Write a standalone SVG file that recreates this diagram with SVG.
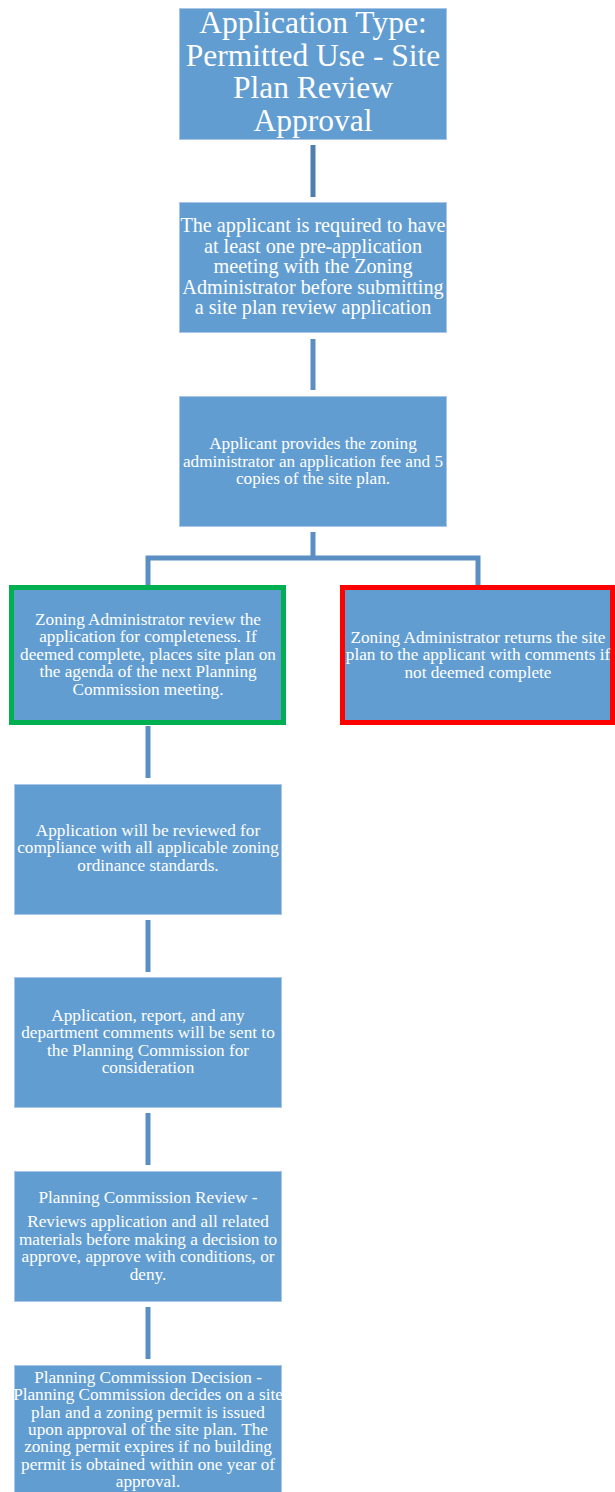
<svg xmlns="http://www.w3.org/2000/svg" width="615" height="1492" viewBox="0 0 615 1492">
  <style>
    .box { fill: #629dd1; stroke: #a9c6e6; stroke-width: 1; }
    .ok { stroke: #00b050; stroke-width: 5; }
    .bad { stroke: #ff0000; stroke-width: 5; }
    .link { fill: none; stroke: #5b8fc4; stroke-width: 5; }
    .link.dark { stroke: #4f7fad; }
    text { font-family: "Liberation Serif", "Times New Roman", serif; fill: #ffffff; text-anchor: middle; }
    .t1 { font-size: 31.5px; }
    .t2 { font-size: 20.2px; }
    .t3 { font-size: 17.2px; }
  </style>
  <rect width="615" height="1492" fill="#ffffff"/>

  <g id="connectors">
    <line class="link dark" x1="313" y1="145" x2="313" y2="197"/>
    <line class="link" x1="313" y1="339" x2="313" y2="390"/>
    <path class="link" d="M313 532 V558 H148 V585 M313 558 H478 V585"/>
    <line class="link" x1="148" y1="726" x2="148" y2="778"/>
    <line class="link" x1="148" y1="920" x2="148" y2="972"/>
    <line class="link" x1="148" y1="1113" x2="148" y2="1165"/>
    <line class="link" x1="148" y1="1307" x2="148" y2="1359"/>
  </g>

  <g id="node-type">
    <rect class="box" x="179.5" y="8.5" width="267" height="131"/>
    <text class="t1" x="313" y="33">Application Type:</text>
    <text class="t1" x="313" y="65.5">Permitted Use - Site</text>
    <text class="t1" x="313" y="98">Plan Review</text>
    <text class="t1" x="313" y="130.5">Approval</text>
  </g>

  <g id="node-preapp">
    <rect class="box" x="179.5" y="202.5" width="267" height="130"/>
    <text class="t2" x="313" y="232">The applicant is required to have</text>
    <text class="t2" x="313" y="252.5">at least one pre-application</text>
    <text class="t2" x="313" y="273">meeting with the Zoning</text>
    <text class="t2" x="313" y="293.5">Administrator before submitting</text>
    <text class="t2" x="313" y="314">a site plan review application</text>
  </g>

  <g id="node-fee">
    <rect class="box" x="179.5" y="396.5" width="267" height="130"/>
    <text class="t3" x="313" y="449">Applicant provides the zoning</text>
    <text class="t3" x="313" y="466.5">administrator an application fee and 5</text>
    <text class="t3" x="313" y="484">copies of the site plan.</text>
  </g>

  <g id="node-complete">
    <rect class="box ok" x="11.5" y="587.5" width="272" height="135"/>
    <text class="t3" x="148" y="624.5">Zoning Administrator review the</text>
    <text class="t3" x="148" y="642">application for completeness. If</text>
    <text class="t3" x="148" y="659.5">deemed complete, places site plan on</text>
    <text class="t3" x="148" y="677">the agenda of the next Planning</text>
    <text class="t3" x="148" y="694.5">Commission meeting.</text>
  </g>

  <g id="node-incomplete">
    <rect class="box bad" x="342.5" y="587.5" width="270" height="135"/>
    <text class="t3" x="478" y="642.5">Zoning Administrator returns the site</text>
    <text class="t3" x="478" y="660">plan to the applicant with comments if</text>
    <text class="t3" x="478" y="677.5">not deemed complete</text>
  </g>

  <g id="node-compliance">
    <rect class="box" x="14.5" y="784.5" width="267" height="130"/>
    <text class="t3" x="148" y="835.5">Application will be reviewed for</text>
    <text class="t3" x="148" y="853">compliance with all applicable zoning</text>
    <text class="t3" x="148" y="870.5">ordinance standards.</text>
  </g>

  <g id="node-report">
    <rect class="box" x="14.5" y="977.5" width="267" height="130"/>
    <text class="t3" x="148" y="1020.5">Application, report, and any</text>
    <text class="t3" x="148" y="1038">department comments will be sent to</text>
    <text class="t3" x="148" y="1055.5">the Planning Commission for</text>
    <text class="t3" x="148" y="1073">consideration</text>
  </g>

  <g id="node-review">
    <rect class="box" x="14.5" y="1171.5" width="267" height="130"/>
    <text class="t3" x="148" y="1203">Planning Commission Review -</text>
    <text class="t3" x="148" y="1227">Reviews application and all related</text>
    <text class="t3" x="148" y="1244.5">materials before making a decision to</text>
    <text class="t3" x="148" y="1262">approve, approve with conditions, or</text>
    <text class="t3" x="148" y="1279.5">deny.</text>
  </g>

  <g id="node-decision">
    <rect class="box" x="14.5" y="1365.5" width="267" height="130"/>
    <text class="t3" x="148" y="1383">Planning Commission Decision -</text>
    <text class="t3" x="148" y="1400.3">Planning Commission decides on a site</text>
    <text class="t3" x="148" y="1417.6">plan and a zoning permit is issued</text>
    <text class="t3" x="148" y="1434.9">upon approval of the site plan. The</text>
    <text class="t3" x="148" y="1452.2">zoning permit expires if no building</text>
    <text class="t3" x="148" y="1469.5">permit is obtained within one year of</text>
    <text class="t3" x="148" y="1486.8">approval.</text>
  </g>
</svg>
